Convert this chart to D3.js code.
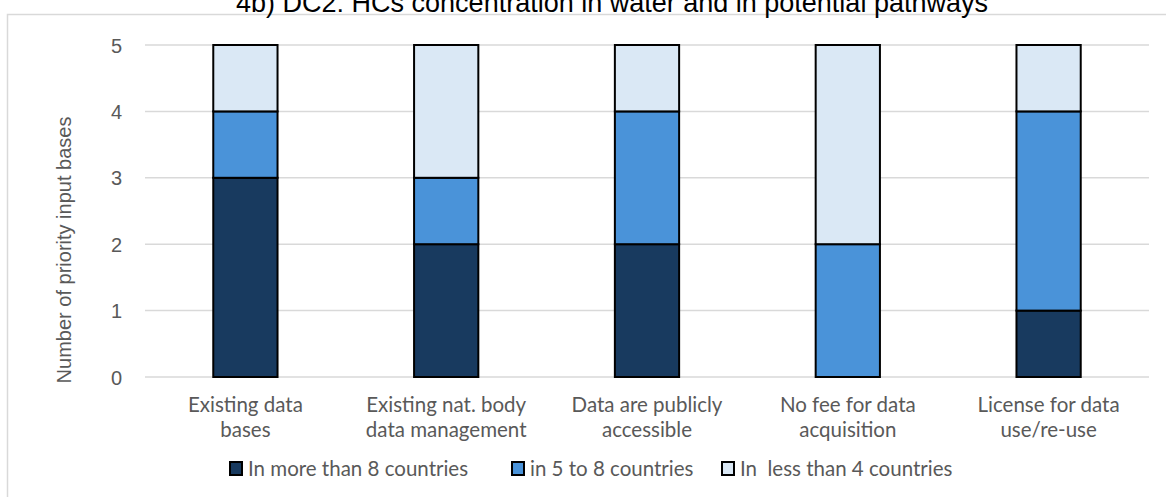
<!DOCTYPE html>
<html>
<head>
<meta charset="utf-8">
<script src="https://cdn.jsdelivr.net/npm/d3@7"></script>
<style>
  html, body { margin: 0; padding: 0; background: #ffffff; }
  svg { display: block; }
</style>
</head>
<body>
<div id="chart"></div>
<script>
// Categories along the x axis (each label split over two lines)
const categories = [
  ["Existing data", "bases"],
  ["Existing nat. body", "data management"],
  ["Data are publicly", "accessible"],
  ["No fee for data", "acquisition"],
  ["License for data", "use/re-use"]
];

// Stacked series, bottom to top
const seriesNames = [
  "In more than 8 countries",
  "in 5 to 8 countries",
  "In  less than 4 countries"
];
const moreThan8 = [3, 2, 2, 0, 1];
const from5to8  = [1, 1, 2, 2, 3];
const lessThan4 = [1, 2, 1, 3, 1];
const yTicks = [0, 1, 2, 3, 4, 5];

const colors = ["#183a5f", "#4a93d9", "#dae8f5"];

const W = 1166, H = 497;
const margin = { left: 145, right: 17, top: 45, bottom: 120 };

const svg = d3.select("#chart").append("svg")
  .attr("width", W).attr("height", H);

// Chart area frame
svg.append("rect")
  .attr("x", 7.5).attr("y", 14.5)
  .attr("width", W + 20).attr("height", H + 20)
  .attr("fill", "#ffffff")
  .attr("stroke", "#d9d9d9").attr("stroke-width", 1.5);

// Title (sits partly above the visible area)
svg.append("text")
  .attr("x", 612).attr("y", 12)
  .attr("text-anchor", "middle")
  .attr("font-family", "'Liberation Sans', Arial, sans-serif")
  .attr("font-size", 27)
  .attr("fill", "#000000")
  .text("4b) DC2: HCs concentration in water and in potential pathways");

const keys = ["a", "b", "c"];
const rows = categories.map((c, i) => ({
  idx: i, a: moreThan8[i], b: from5to8[i], c: lessThan4[i]
}));
const stacked = d3.stack().keys(keys)(rows);

const x = d3.scaleBand()
  .domain(d3.range(categories.length))
  .range([margin.left, W - margin.right])
  .paddingInner(0.68).paddingOuter(0.34);

const y = d3.scaleLinear()
  .domain([0, 5])
  .range([H - margin.bottom, margin.top]);

// Gridlines
svg.append("g").selectAll("line")
  .data(yTicks).join("line")
  .attr("x1", margin.left).attr("x2", W - margin.right)
  .attr("y1", d => y(d)).attr("y2", d => y(d))
  .attr("stroke", "#d9d9d9").attr("stroke-width", 1.5);

// Y axis labels
const yAxis = d3.axisLeft(y).tickValues(yTicks).tickFormat(d3.format("d"))
  .tickSize(0).tickPadding(0);
const gy = svg.append("g")
  .attr("transform", `translate(${margin.left - 23},0)`)
  .call(yAxis);
gy.select(".domain").remove();
gy.selectAll("text")
  .attr("font-family", "'Liberation Sans', Arial, sans-serif")
  .attr("font-size", 20)
  .attr("fill", "#595959")
  .attr("dy", "0.35em");

// Y axis title
svg.append("text")
  .attr("transform", `translate(71,${(y(0) + y(5)) / 2 + 39}) rotate(-90)`)
  .attr("text-anchor", "middle")
  .attr("font-family", "'Liberation Sans', Arial, sans-serif")
  .attr("font-size", 20)
  .attr("fill", "#595959")
  .text("Number of priority input bases");

// Stacked bars
svg.append("g").selectAll("g")
  .data(stacked).join("g")
  .attr("fill", (d, i) => colors[i])
  .selectAll("rect")
  .data(d => d.filter(s => s[1] - s[0] > 0))
  .join("rect")
  .attr("x", d => x(d.data.idx))
  .attr("width", x.bandwidth())
  .attr("y", d => y(d[1]))
  .attr("height", d => y(d[0]) - y(d[1]))
  .attr("stroke", "#000000")
  .attr("stroke-width", 2);

// Category labels
const catFont = "Lato, 'Open Sans', sans-serif";
const cl = svg.append("g").selectAll("text")
  .data(categories).join("text")
  .attr("text-anchor", "middle")
  .attr("font-family", catFont)
  .attr("font-size", 20.5)
  .attr("fill", "#595959");
cl.selectAll("tspan")
  .data((d, i) => d.map(t => ({ t, i })))
  .join("tspan")
  .attr("x", d => x(d.i) + x.bandwidth() / 2)
  .attr("y", (d, j) => 412 + j * 25)
  .text(d => d.t);

// Legend
const legendX = [229, 511, 721];
const lg = svg.append("g").selectAll("g")
  .data(seriesNames).join("g")
  .attr("transform", (d, i) => `translate(${legendX[i]},462)`);
lg.append("rect")
  .attr("x", 1).attr("y", 0)
  .attr("width", 12).attr("height", 13)
  .attr("fill", (d, i) => colors[i])
  .attr("stroke", "#000000").attr("stroke-width", 2);
lg.append("text")
  .attr("x", 19).attr("y", 14)
  .attr("font-family", catFont)
  .attr("font-size", 20.5)
  .attr("fill", "#595959")
  .attr("xml:space", "preserve")
  .style("white-space", "pre")
  .text(d => d);
</script>
</body>
</html>
